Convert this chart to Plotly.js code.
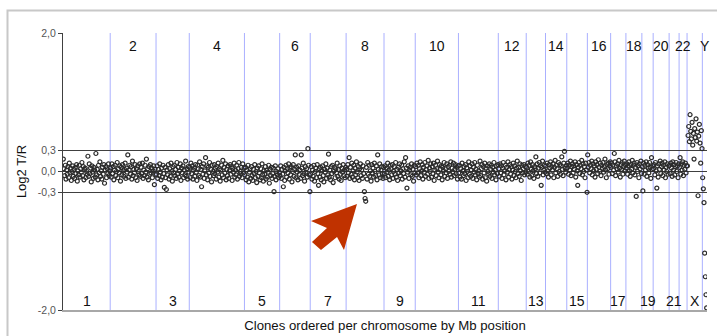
<!DOCTYPE html>
<html>
<head>
<meta charset="utf-8">
<script src="https://cdn.plot.ly/plotly-3.0.1.min.js"></script>
<style>html,body{margin:0;padding:0;background:#fff;}#chart{width:717px;height:336px;}</style>
</head>
<body>
<div id="chart"></div>
<script>
// Log2 T/R values per chromosome (in hundredths), clones ordered by Mb position
const chr1 = [18,4,-6,9,-11,2,-4,7,-9,12, -2,5,-13,0,8,-7,3,-10,6,-3, 10,-14,1,-5,9,-8,4,-1,13,-6, 7,-12,3,5,-9,0,-4,22,-7,11, -3,5,-15,8,-1,-10,6,2,-8,26, -5,3,-12,9,-2,14,-7,1,-11,6, -4,10,-17,2,7,-9,4,-3,11,-6, 1];
const chr2 = [5,-8,11,-3,7,-12,2,9,-6,0, 13,-9,4,-2,8,-14,6,-5,10,1, -7,3,12,-10,5,-1,24,-8,2,9, -4,7,-11,15,-6,3,-2,10,-9,4, -13,8,0,-5,11,-7,6,-3,12,-10, 2,-6,9,-1,18,-8,4,-12,7,-4, 10,-2,5,-9,1,8,-19,3,-5];
const chr3 = [-4,8,-10,3,-6,11,-1,-12,5,-8, 9,-3,-23,6,-9,-26,2,-5,10,-11, 4,-7,12,0,-14,7,-2,9,-6,3, -10,13,-4,6,-8,1,11,-13,5,-2, 8,-9,2,-5,15,-7,4,-11,7,-1];
const chr4 = [6,-9,12,-3,8,-11,2,5,-7,10, -1,-13,9,4,-6,14,-8,3,-22,7, -4,11,-10,1,20,-5,8,-12,6,-2, 13,-7,3,-15,9,0,-6,10,-3,5, -11,7,-1,12,-8,4,-14,2,9,-5, 16,-9,6,-2,11,-12,3,-6,8,-10, 1,10,-4,7,-13,5,-1,12,-8,2, -5,9,-11,4,13,-7,0,-3,6,-9, 11,-2,5];
const chr5 = [-5,6,-12,2,-8,9,-15,-1,4,-10, 7,-6,-13,3,-3,10,-9,0,-16,5, -7,8,-2,-12,4,-9,11,-5,-14,1, -4,7,-11,2,-8,-1,9,-17,3,-6, 6,-10,-3,5,-29,-7,8,-12,0,-5, 4,-9,-2];
const chr6 = [-6,8,-10,3,-4,-22,6,-13,1,9, -8,4,-2,11,-11,5,-5,7,-15,0, 10,-7,3,24,-9,6,-1,-12,8,-4, 2,-10,24,5,-6,12,-3,-14,7,-1, 4,-8,33,9,-5,-29];
const chr7 = [-4,7,-11,2,-7,9,-14,0,5,-9, 10,-3,-20,4,-8,6,-12,1,8,-6, -15,3,-1,11,-10,5,-5,25,-8,2, -12,7,-3,9,-16,0,6,-9,4,-2, 12,-7,3,-11,8,-4,-13,5,-1,10, -6,2,-9,6];
const chr8 = [3,-7,10,-2,20,-10,6,-4,12,-8, 1,9,-12,5,-5,14,-1,-9,7,-13, 4,11,-6,2,-10,8,-3,-29,-39,-43, 6,-11,13,-4,9,-7,1,-14,10,-2, 5,-8,12,0,-6,8,-12,24,3,-5, 11,-9,2,7,-3,-10,6];
const chr9 = [-3,8,-9,5,-1,12,-7,2,-12,9, 4,-5,10,-10,0,7,-4,13,-8,3, -13,6,-2,11,-6,1,9,-11,4,-3, 14,-8,20,5,-24,-1,8,-10,2,6, -5,11,-7,3,-14,9,-2];
const chr10 = [7,-5,12,-2,9,-9,4,14,-6,1, 10,-11,6,-1,13,-7,3,8,-4,16, -10,5,0,11,-8,7,-3,12,-13,2, 9,-6,4,15,-1,-9,10,3,-5,8, -12,6,1,13,-7,4,-2,11,-10,7, 0,9,-4,14,-8,5,-1,12,-6,3, 10,-3,6,-11,8];
const chr11 = [-2,9,-8,4,-11,12,1,-6,7,-3, 10,-13,5,0,-9,14,-4,8,-7,2, 11,-10,6,-1,13,-5,3,-12,9,-3, 1,-8,15,-6,4,10,-11,7,-2,12, -9,5,-14,8,0,-4,11,-7,3,9, -10,6,-1,13,-5,2,-12,8,-3,10];
const chr12 = [4,-7,11,-2,8,-10,5,13,-5,1, 9,-12,6,-1,14,-8,3,10,-4,7, -11,2,12,-6,8,0,-9,5,15,-3, 6,-7,11,1,-13,9,-2,4,10,-5, 7,-1];
const chr13 = [6,-4,12,0,9,-8,14,3,-6,10, 1,-10,7,4,21,-3,11,-7,5,13, -2,8,-20,6,15,-5,2,9,-1];
const chr14 = [8,-3,12,1,-8,10,5,14,-5,7, 2,11,-9,6,16,-2,9,4,-7,13, 0,10,-4,8,21,3,-6,12,29,5, -1,9];
const chr15 = [5,12,-4,9,2,15,-6,7,11,-2, 8,3,14,-8,10,1,-20,6,13,-3, 9,4,16,-5,11,0,7,-9,12,2, -30];
const chr16 = [24,6,13,-2,9,4,15,-5,11,1, 8,-8,14,3,10,-3,17,6,0,12, -6,9,5,13,-1,7,18,2,-9,10, 4,12,-4,8,14];
const chr17 = [6,12,-3,9,2,26,14,-6,8,4, 11,-1,16,5,-8,10,3,13,-4,7, 15,1,9];
const chr18 = [5,11,-4,8,14,1,-7,10,3,16, -2,9,12,-5,6,-36,13,0,8,-9, 11,4,15,-3];
const chr19 = [7,-28,12,-4,9,2,14,-7,10,5, -2,13,6,-10,20,3,8];
const chr20 = [4,10,-5,13,1,-24,8,-8,11,3, 15,-3,7,12,-6,9,2,14,-9,6, 0,11,-4,8];
const chr21 = [9,-3,12,5,-7,14,2,10,-5,7, 13,0,8,-9,11];
const chr22 = [6,20,-4,11,2,14,-6,9,3,12, -2,8];
const chrX = [8,52,65,43,82,58,47,71,38,55, 18,62,49,76,44,57,-35,51,68,41, 12,59,33];
const chrY = [-9,-25,-45,-118,-152,-178,-197];

const chromNames = ['1','2','3','4','5','6','7','8','9','10','11','12','13','14','15','16','17','18','19','20','21','22','X','Y'];
const chromData = [chr1,chr2,chr3,chr4,chr5,chr6,chr7,chr8,chr9,chr10,chr11,chr12,chr13,chr14,chr15,chr16,chr17,chr18,chr19,chr20,chr21,chr22,chrX,chrY];
const yTickVals = [2, 0.3, 0, -0.3, -2];
const yTickText = ['2,0', '0,3', '0,0', '-0,3', '-2,0'];

const xs = [], ys = [], bounds = [], mids = [];
let off = 0;
chromData.forEach(arr => {
  arr.forEach((v, j) => { xs.push(off + j + 0.5); ys.push(v / 100); });
  mids.push(off + arr.length / 2);
  off += arr.length;
  bounds.push(off);
});
const total = off;

const FONT = 'Liberation Sans, Arial, sans-serif';
const shapes = [];
bounds.slice(0, -1).forEach(b => shapes.push({
  type: 'line', xref: 'x', yref: 'paper', x0: b, x1: b, y0: 0, y1: 1,
  line: {color: '#aab0ff', width: 1}, layer: 'below'
}));

// frame around the chart (pixel geometry -> paper)
const L = 63, R = 707, T = 33, B = 310;
const px = x => (x - L) / (R - L);
const py = y => (B - y) / (B - T);
shapes.push({type: 'rect', xref: 'paper', yref: 'paper',
  x0: px(7.5), x1: px(730), y0: py(345), y1: py(10.5),
  line: {color: '#c8c8c8', width: 2}, fillcolor: 'rgba(0,0,0,0)', layer: 'below'});

// red arrow
const arrowPts = [[357,204],[311,221],[327,228],[312,242],[321,250],[337,237],[344,250]];
shapes.push({type: 'path', xref: 'paper', yref: 'paper',
  path: 'M' + arrowPts.map(p => px(p[0]).toFixed(4) + ',' + py(p[1]).toFixed(4)).join(' L') + ' Z',
  fillcolor: '#c03200', line: {width: 0}, layer: 'above'});

const annotations = chromNames.map((n, i) => {
  const top = (n === 'Y') || (n !== 'X' && parseInt(n) % 2 === 0);
  return {x: mids[i], xref: 'x', y: top ? py(46) : py(300.5), yref: 'paper',
    text: n, showarrow: false, xanchor: 'center', yanchor: 'middle',
    font: {family: FONT, size: 14, color: '#111'}};
});

const trace = {
  type: 'scatter', mode: 'markers', x: xs, y: ys, hoverinfo: 'skip',
  marker: {symbol: 'circle-open', size: 4, color: '#2b2b2b', line: {width: 1.2, color: '#2b2b2b'}}
};

const layout = {
  width: 717, height: 336,
  margin: {l: L, r: 717 - R, t: T, b: 336 - B},
  paper_bgcolor: '#fff', plot_bgcolor: '#fff',
  showlegend: false,
  xaxis: {range: [0, total], showticklabels: false, ticks: '', showgrid: false, zeroline: false,
    showline: true, linecolor: '#a8a8a8', linewidth: 2, fixedrange: true, automargin: false,
    title: {text: 'Clones ordered per chromosome by Mb position', font: {family: FONT, size: 13.2, color: '#111'}, standoff: 10}},
  yaxis: {range: [-2, 2], tickvals: yTickVals, ticktext: yTickText, ticks: 'outside', ticklen: 4,
    tickcolor: '#404040', tickfont: {family: FONT, size: 10.5, color: '#555'},
    showgrid: true, gridcolor: '#404040', gridwidth: 1, zeroline: false,
    showline: true, linecolor: '#404040', linewidth: 1, automargin: false, fixedrange: true,
    title: {text: 'Log2 T/R', font: {family: FONT, size: 13, color: '#111'}, standoff: 8}},
  shapes: shapes,
  annotations: annotations
};

Plotly.newPlot('chart', [trace], layout, {staticPlot: true, displayModeBar: false});
</script>
</body>
</html>
